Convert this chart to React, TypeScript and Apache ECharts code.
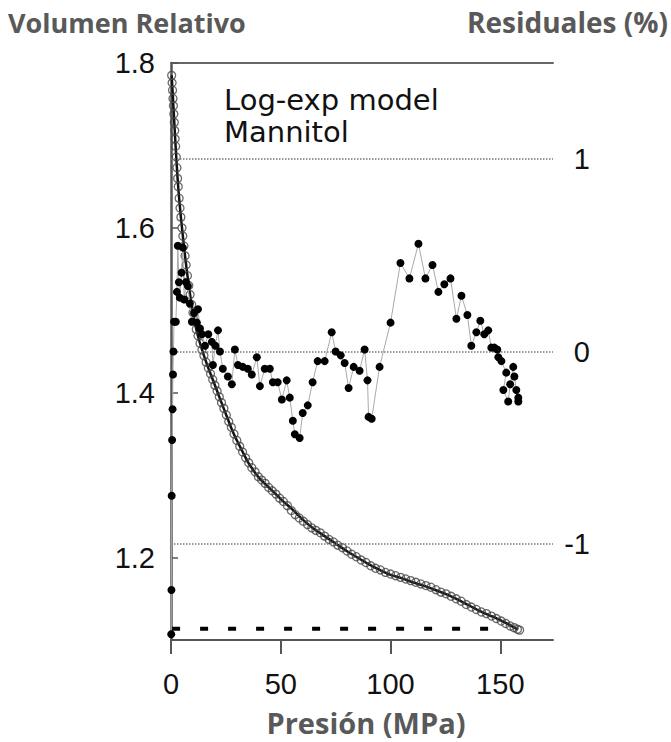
import React, { useEffect, useRef } from "react";
import * as echarts from "echarts";

const xTicks = [0, 50, 100, 150];
const leftTicks = [1.2, 1.4, 1.6, 1.8];
const rightTicks = [-1, 0, 1];

// Relative volume data (open circles): [pressure MPa, relative volume]
const volumeData: number[][] = [
  [0.3, 1.785], [0.5, 1.776], [0.7, 1.767], [0.9, 1.757], [1.1, 1.748], [1.3, 1.738],
  [1.5, 1.728], [1.7, 1.718], [1.9, 1.708], [2.1, 1.699], [2.4, 1.686], [2.7, 1.673],
  [3.0, 1.66], [3.3, 1.65], [3.7, 1.636], [4.1, 1.624], [4.5, 1.613], [5.0, 1.6],
  [5.4, 1.59], [5.9, 1.578], [6.4, 1.566], [6.9, 1.555], [7.5, 1.542], [8.1, 1.53],
  [8.7, 1.519], [9.4, 1.507], [10.0, 1.497], [10.7, 1.488], [11.5, 1.477], [12.3, 1.469],
  [13.2, 1.46], [14.1, 1.452], [15.0, 1.445], [16.0, 1.437], [17.0, 1.43], [18.0, 1.423],
  [19.0, 1.416], [20.0, 1.409], [21.0, 1.402], [22.0, 1.395], [23.0, 1.388], [24.1, 1.381],
  [25.2, 1.373], [26.3, 1.365], [27.5, 1.358], [28.7, 1.35], [30.0, 1.342], [31.3, 1.335],
  [32.6, 1.328], [34.0, 1.321], [35.4, 1.315], [36.8, 1.309], [38.3, 1.304], [39.8, 1.298],
  [41.3, 1.294], [42.9, 1.29], [44.5, 1.285], [46.1, 1.281], [47.8, 1.277], [49.5, 1.272],
  [51.2, 1.268], [53.0, 1.263], [54.8, 1.257], [56.6, 1.252], [58.4, 1.248], [60.3, 1.244],
  [62.2, 1.24], [64.1, 1.236], [66.0, 1.233], [68.0, 1.23], [70.0, 1.226], [72.0, 1.222],
  [74.0, 1.219], [76.0, 1.215], [78.1, 1.212], [80.2, 1.208], [82.3, 1.204], [84.4, 1.201],
  [86.6, 1.197], [88.8, 1.194], [91.0, 1.19], [93.2, 1.187], [95.4, 1.185], [97.7, 1.182],
  [100.0, 1.18], [102.3, 1.178], [104.6, 1.176], [106.9, 1.174], [109.2, 1.172], [111.5, 1.17],
  [113.8, 1.168], [116.1, 1.166], [118.4, 1.164], [120.7, 1.161], [123.0, 1.158], [125.3, 1.156],
  [127.6, 1.153], [129.9, 1.15], [132.2, 1.147], [134.5, 1.143], [136.8, 1.14], [139.1, 1.137],
  [141.4, 1.134], [143.7, 1.132], [146.0, 1.129], [148.2, 1.126], [150.4, 1.123], [152.5, 1.12],
  [154.5, 1.117], [156.3, 1.115], [157.8, 1.113], [158.8, 1.112],
];

// Log-exp model fit (solid line)
const fitCurve: number[][] = [
  [0.3, 1.785], [0.8, 1.762], [1.3, 1.738], [1.8, 1.713], [2.4, 1.686], [3.0, 1.66],
  [3.7, 1.636], [4.5, 1.613], [5.4, 1.59], [6.4, 1.566], [7.5, 1.542], [8.7, 1.519],
  [10, 1.497], [11.5, 1.477], [13.2, 1.46], [15, 1.445], [17, 1.43], [19, 1.416],
  [21, 1.402], [23, 1.388], [25, 1.374], [27.5, 1.357], [30, 1.342], [32.5, 1.329],
  [35, 1.316], [37.5, 1.306], [40, 1.297], [45, 1.284], [50, 1.271], [55, 1.259],
  [60, 1.246], [65, 1.235], [70, 1.226], [75, 1.217], [80, 1.208], [85, 1.2],
  [90, 1.192], [95, 1.185], [100, 1.179], [105, 1.175], [110, 1.17], [115, 1.166],
  [120, 1.161], [125, 1.156], [130, 1.15], [135, 1.143], [140, 1.136], [145, 1.13],
  [150, 1.124], [155, 1.117], [158, 1.113],
];

// Residuals (%) (filled dots, right axis)
const residuals: number[][] = [
  [0.1, -1.47], [0.2, -1.24], [0.3, -0.75], [0.5, -0.46], [0.7, -0.3], [0.9, -0.12],
  [1.1, 0.0], [1.4, 0.155], [2.2, 0.155], [2.7, 0.31], [3.1, 0.55], [3.6, 0.36],
  [4.0, 0.28], [4.8, 0.41], [5.4, 0.54], [6.0, 0.27], [6.8, 0.36], [7.7, 0.34],
  [8.6, 0.25], [9.5, 0.155], [10.5, 0.2], [11.8, 0.15], [12.3, 0.22], [13.2, 0.12],
  [14.1, 0.09], [15.5, 0.03], [17.0, 0.09], [18.6, 0.05], [19.1, -0.07], [20.2, 0.03],
  [21.4, 0.11], [22.3, 0.0], [23.6, -0.09], [25.9, -0.13], [27.7, -0.17], [29.1, 0.01],
  [30.5, -0.07], [32.7, -0.08], [35.0, -0.09], [36.8, -0.12], [39.1, -0.03], [40.5, -0.18],
  [42.7, -0.09], [45.0, -0.09], [46.4, -0.16], [48.6, -0.16], [50.5, -0.25], [52.7, -0.15],
  [54.1, -0.24], [55.5, -0.36], [56.4, -0.43], [58.6, -0.45], [60.0, -0.32], [62.3, -0.28],
  [64.5, -0.16], [66.8, -0.05], [70.0, -0.05], [73.2, 0.1], [75.0, 0.0], [77.3, -0.02],
  [79.1, -0.06], [80.9, -0.19], [83.2, -0.08], [85.9, -0.1], [88.2, 0.01], [89.5, -0.15],
  [90.0, -0.34], [91.4, -0.35], [95.0, -0.08], [100.0, 0.15], [104.5, 0.46], [108.6, 0.38],
  [112.7, 0.56], [115.9, 0.38], [119.1, 0.45], [121.8, 0.31], [124.5, 0.35], [127.3, 0.38],
  [130.0, 0.17], [132.3, 0.29], [135.0, 0.19], [136.8, 0.03], [139.1, 0.1], [140.9, 0.16],
  [142.7, 0.09], [144.5, 0.11], [145.9, 0.02], [147.3, 0.02], [148.6, 0.01], [149.1, -0.03],
  [150.5, -0.05], [152.7, -0.11], [151.4, -0.2], [153.6, -0.26], [154.5, -0.17], [155.9, -0.08],
  [156.4, -0.13], [157.3, -0.2], [158.2, -0.24], [158.2, -0.26],
];

// Dashed baseline
const dashedLine: number[][] = [
  [0.5, 1.1135],
  [144.5, 1.1135],
];

const residualRefLines = [1, 0, -1];

const TICK_FONT = "'Liberation Sans', Arial, sans-serif";
const NOTE_FONT = "'DejaVu Sans', sans-serif";
const TITLE_FONT = "'Open Sans', 'Noto Sans', sans-serif";

export default function App() {
  const ref = useRef<HTMLDivElement>(null);

  useEffect(() => {
    if (!ref.current) return;
    const chart = echarts.init(ref.current, null, { renderer: "svg" });
    const option: any = {
      animation: false,
      backgroundColor: "#ffffff",
      grid: { left: 171, top: 63, right: 118, bottom: 102, containLabel: false },
      xAxis: [
        {
          type: "value",
          min: 0,
          max: 174,
          interval: 50,
          position: "bottom",
          axisLine: { show: true, onZero: false, lineStyle: { color: "#555", width: 2 } },
          axisTick: {
            show: true,
            inside: false,
            length: 14,
            customValues: xTicks,
            lineStyle: { color: "#555", width: 2 },
          },
          axisLabel: {
            customValues: xTicks,
            fontSize: 29,
            color: "#111",
            fontFamily: TICK_FONT,
            margin: 29,
          },
          splitLine: { show: false },
        },
        {
          type: "value",
          min: 0,
          max: 174,
          position: "top",
          axisLine: { show: true, onZero: false, lineStyle: { color: "#666", width: 2 } },
          axisTick: { show: false },
          axisLabel: { show: false },
          splitLine: { show: false },
        },
      ],
      yAxis: [
        {
          type: "value",
          min: 1.1,
          max: 1.8,
          position: "left",
          axisLine: { show: true, onZero: false, lineStyle: { color: "#555", width: 2.5 } },
          axisTick: {
            show: true,
            inside: true,
            length: 7,
            customValues: leftTicks,
            lineStyle: { color: "#555", width: 1.5 },
          },
          axisLabel: {
            customValues: leftTicks,
            fontSize: 29,
            color: "#111",
            fontFamily: TICK_FONT,
            margin: 16,
            formatter: (v: number) => v.toFixed(1),
          },
          splitLine: { show: false },
        },
        {
          type: "value",
          min: -1.5,
          max: 1.5,
          position: "right",
          axisLine: { show: false, onZero: false },
          axisTick: { show: false },
          axisLabel: {
            customValues: rightTicks,
            fontSize: 29,
            color: "#111",
            fontFamily: TICK_FONT,
            align: "right",
            margin: 37,
            formatter: (v: number) => String(v),
          },
          splitLine: { show: false },
        },
      ],
      graphic: [
        {
          type: "text",
          x: 8,
          y: 22,
          style: {
            text: "Volumen Relativo",
            font: `bold 27px ${TITLE_FONT}`,
            fill: "#595959",
            verticalAlign: "middle",
          },
        },
        {
          type: "text",
          x: 668,
          y: 22,
          style: {
            text: "Residuales (%)",
            font: `bold 28px ${TITLE_FONT}`,
            fill: "#595959",
            align: "right",
            verticalAlign: "middle",
          },
        },
        {
          type: "text",
          x: 366,
          y: 722,
          style: {
            text: "Presión (MPa)",
            font: `bold 29px ${TITLE_FONT}`,
            fill: "#595959",
            align: "center",
            verticalAlign: "middle",
          },
        },
        {
          type: "text",
          x: 224,
          y: 100,
          style: {
            text: "Log-exp model",
            font: `29px ${NOTE_FONT}`,
            fill: "#111",
            verticalAlign: "middle",
          },
        },
        {
          type: "text",
          x: 224,
          y: 132,
          style: {
            text: "Mannitol",
            font: `29px ${NOTE_FONT}`,
            fill: "#111",
            verticalAlign: "middle",
          },
        },
      ],
      series: [
        {
          type: "line",
          name: "dashed",
          data: dashedLine,
          xAxisIndex: 0,
          yAxisIndex: 0,
          showSymbol: false,
          symbol: "none",
          lineStyle: { color: "#000", width: 4, type: [8, 20] },
          z: 2,
        },
        {
          type: "line",
          name: "fit",
          data: fitCurve,
          xAxisIndex: 0,
          yAxisIndex: 0,
          showSymbol: false,
          symbol: "none",
          smooth: 0.2,
          lineStyle: { color: "#111", width: 2.5 },
          z: 3,
        },
        {
          type: "scatter",
          name: "volume",
          data: volumeData,
          xAxisIndex: 0,
          yAxisIndex: 0,
          symbol: "circle",
          symbolSize: 8,
          itemStyle: { color: "rgba(255,255,255,0)", borderColor: "#444", borderWidth: 1.3 },
          z: 4,
        },
        {
          type: "line",
          name: "residuals",
          data: residuals,
          xAxisIndex: 0,
          yAxisIndex: 1,
          symbol: "circle",
          symbolSize: 8,
          showSymbol: true,
          itemStyle: { color: "#000" },
          lineStyle: { color: "#aaa", width: 1 },
          z: 5,
          markLine: {
            silent: true,
            symbol: "none",
            label: { show: false },
            lineStyle: { type: "dotted", color: "#777", width: 1.5 },
            data: residualRefLines.map((v) => ({ yAxis: v })),
          },
        },
      ],
    };
    chart.setOption(option);
    return () => chart.dispose();
  }, []);

  return (
    <div
      ref={ref}
      style={{ position: "absolute", left: 0, top: 0, width: 671, height: 742, background: "#fff" }}
    />
  );
}
